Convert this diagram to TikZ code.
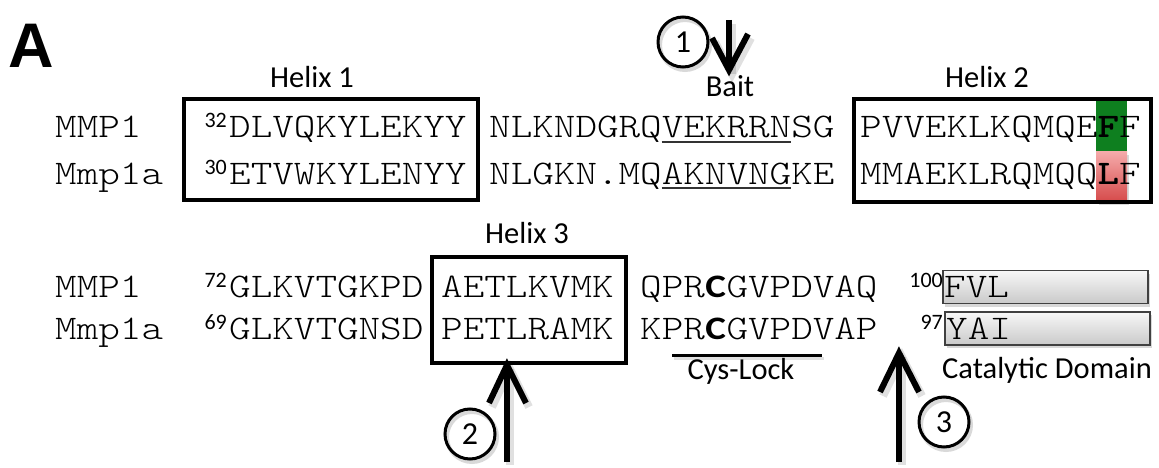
\documentclass[tikz,border=0pt]{standalone}
\usepackage{fontspec}
\usepackage{graphicx}
\usetikzlibrary{shadows}
\newfontfamily\calfont{Carlito}
\newfontfamily\arialfont{Liberation Sans}
\newcommand\sqf{\fontsize{41.1}{41.1}\fontseries{l}\ttfamily}
\newcommand\sq[1]{\scalebox{1}[0.84]{\sqf #1}}
\newcommand\bq[1]{{\fontseries{b}\selectfont #1}}
\newcommand\bc{\makebox[21.58pt]{\fontsize{39}{39}\calfont\bfseries C}}
\definecolor{hlgreen}{HTML}{0E7F1F}
\definecolor{pinktop}{HTML}{F5AAAA}
\definecolor{pinkbot}{HTML}{D64B4B}
\tikzset{
  lbl/.style={font=\calfont\fontsize{30.5}{30.5}\selectfont, inner sep=0pt, anchor=base},
  seqtext/.style={inner sep=0pt, anchor=base west},
  suptext/.style={font=\calfont\fontsize{22}{22}\selectfont, inner sep=0pt, anchor=base east},
  helixbox/.style={draw, line width=4pt, inner sep=0pt},
  numcirc/.style={circle, draw, line width=3pt, minimum size=50pt, inner sep=0pt, font=\calfont\fontsize{32}{32}\selectfont,
     drop shadow={shadow xshift=2pt, shadow yshift=-3pt, opacity=.15, fill=none, draw=black, line width=4pt}},
  bigarrow/.style={line width=6pt},
  arrowshadow/.style={line width=8pt, black, opacity=.12},
  catbar/.style={draw=black!75, line width=1.5pt, inner sep=0pt, top color=gray!6, bottom color=gray!42,
     drop shadow={shadow xshift=2pt, shadow yshift=-3pt, opacity=.3}},
  uline/.style={line width=1.6pt, black!80},
}
\begin{document}
\begin{tikzpicture}[x=1pt,y=-1pt]
\useasboundingbox (0,0) rectangle (1159,468);
\fill[white] (0,0) rectangle (1159,468);

% panel letter
\node[inner sep=0pt, anchor=base west, font=\arialfont\bfseries\fontsize{63}{63}\selectfont] (panel) at (8,68) {A};

% helix labels
\node[lbl] (h1lbl) at (312,88) {Helix 1};
\node[lbl] (h2lbl) at (987,88) {Helix 2};
\node[lbl] (h3lbl) at (527,243) {Helix 3};
\node[lbl] (bait) at (730,97) {Bait};

% highlights
\fill[black, opacity=.15] (1099,155) rectangle (1129,205);
\fill[hlgreen] (1096,99) rectangle (1127,152);
\shade[top color=pinktop, bottom color=pinkbot] (1096,152) rectangle (1127,201);

% boxes
\node[helixbox, minimum width=294pt, minimum height=101pt] (box1) at (331,149.5) {};
\node[helixbox, minimum width=297pt, minimum height=103pt] (box2) at (1002.5,150.5) {};
\node[helixbox, minimum width=194pt, minimum height=106pt] (box3) at (529,310) {};

% row 1
\node[seqtext] (m1) at (55,138) {\sq{MMP1}};
\node[suptext] (s1) at (227,128) {32};
\node[seqtext] (q1a) at (229,138) {\sq{DLVQKYLEKYY}};
\node[seqtext] (q1b) at (489,138) {\sq{NLKNDGRQVEKRRNSG}};
\node[seqtext] (q1c) at (860,138) {\sq{PVVEKLKQMQE\bq{F}F}};
% row 2
\node[seqtext] (m2) at (55,184) {\sq{Mmp1a}};
\node[suptext] (s2) at (227,174) {30};
\node[seqtext] (q2a) at (229,184) {\sq{ETVWKYLENYY}};
\node[seqtext] (q2b) at (489,184) {\sq{NLGKN.MQAKNVNGKE}};
\node[seqtext] (q2c) at (860,184) {\sq{MMAEKLRQMQQ\bq{L}F}};
\draw[uline] (661.6,142) -- (791.1,142);
\draw[uline] (661.6,188) -- (791.1,188);

% catalytic bars
\node[catbar, minimum width=205pt, minimum height=33pt] (bar1) at (1045.5,287) {};
\node[catbar, minimum width=205pt, minimum height=33pt] (bar2) at (1047.5,328.5) {};

% row 3
\node[seqtext] (m3) at (55,297) {\sq{MMP1}};
\node[suptext] (s3) at (227,287) {72};
\node[seqtext] (q3a) at (229,297) {\sq{GLKVTGKPD}};
\node[seqtext] (q3b) at (441,297) {\sq{AETLKVMK}};
\node[seqtext] (q3c) at (640,297) {\sq{QPR\bc GVPDVAQ}};
\node[suptext] (s3b) at (943,287) {100};
\node[seqtext] (q3d) at (944,297) {\sq{FVL}};
% row 4
\node[seqtext] (m4) at (55,339) {\sq{Mmp1a}};
\node[suptext] (s4) at (227,329) {69};
\node[seqtext] (q4a) at (229,339) {\sq{GLKVTGNSD}};
\node[seqtext] (q4b) at (441,339) {\sq{PETLRAMK}};
\node[seqtext] (q4c) at (640,339) {\sq{KPR\bc GVPDVAP}};
\node[suptext] (s4b) at (943,329) {97};
\node[seqtext] (q4d) at (946,339) {\sq{YAI}};

% cys-lock
\coordinate (cysL) at (672,355);
\coordinate (cysR) at (822,355);
\draw[arrowshadow, line width=3pt] ([shift={(2,3)}]cysL) -- ([shift={(2,3)}]cysR);
\draw[line width=3pt] (cysL) -- (cysR);
\node[lbl] (cys) at (741,379) {Cys-Lock};
\node[lbl, anchor=base west] (cat) at (942,378) {Catalytic Domain};

% circles
\node[numcirc] (c1) at (683,42) {1};
\node[numcirc] (c2) at (470,434) {2};
\node[numcirc] (c3) at (944,422) {3};

% arrow 1
\coordinate (a1top) at (729,20);
\coordinate (a1tip) at (729,70);
\draw[arrowshadow] ([shift={(3,4)}]a1top) -- ([shift={(3,4)}]a1tip);
\draw[arrowshadow, line join=miter] (715,42) -- ([shift={(3,4)}]a1tip) -- (751,38);
\draw[bigarrow] (a1top) -- (a1tip);
\draw[bigarrow, line join=miter] (712,38) -- (a1tip) -- (748,34);

% arrow 2
\coordinate (a2base) at (507,462);
\coordinate (a2tip) at (a2base |- box3.south);
\draw[arrowshadow] ([shift={(3,3)}]a2base) -- ([shift={(3,4)}]a2tip);
\draw[arrowshadow, line join=miter] (492,407) -- ([shift={(3,4)}]a2tip) -- (529,407);
\draw[bigarrow] (a2base) -- (a2tip);
\draw[bigarrow, line join=miter] (489,403) -- (a2tip) -- (526,403);

% arrow 3
\coordinate (a3base) at (899,462);
\coordinate (a3tip) at (899,353);
\draw[arrowshadow] ([shift={(3,3)}]a3base) -- ([shift={(3,4)}]a3tip);
\draw[arrowshadow, line join=miter] (883,396) -- ([shift={(3,4)}]a3tip) -- (922,396);
\draw[bigarrow] (a3base) -- (a3tip);
\draw[bigarrow, line join=miter] (880,392) -- (a3tip) -- (919,392);
\end{tikzpicture}
\end{document}
